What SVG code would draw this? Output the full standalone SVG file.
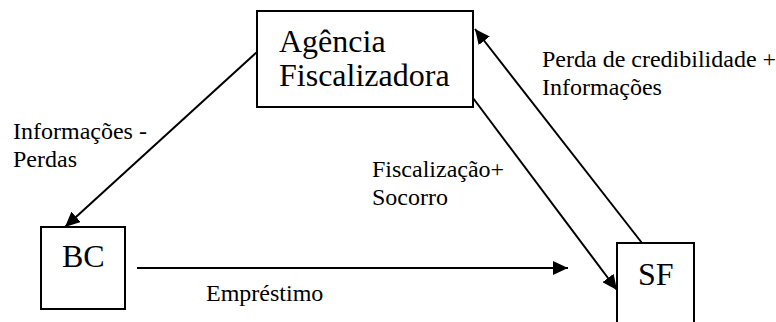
<svg xmlns="http://www.w3.org/2000/svg" width="776" height="322" viewBox="0 0 776 322">
<defs>
<marker id="ah" markerUnits="userSpaceOnUse" markerWidth="16" markerHeight="14" refX="15" refY="7" orient="auto">
<path d="M0,0 L15,7 L0,14 z" fill="#000"/>
</marker>
<style>
.box{fill:#fff;stroke:#000;stroke-width:2}
text{font-family:'Liberation Serif',serif;fill:#000}
.big{font-size:32px}
.lbl{font-size:24px}
.con{stroke:#000;stroke-width:2;fill:none;marker-end:url(#ah)}
</style>
</defs>
<rect width="776" height="322" fill="#fff"/>
<g id="connectors">
<line class="con" x1="257" y1="52" x2="65" y2="227"/>
<line class="con" x1="642" y1="243" x2="475" y2="29"/>
<line class="con" x1="473" y1="98" x2="617" y2="290"/>
<line class="con" x1="137" y1="268" x2="568" y2="268"/>
</g>
<g id="agencia">
<rect class="box" x="257" y="11" width="216" height="96"/>
<text class="big" x="279" y="52">Agência</text>
<text class="big" x="279" y="86">Fiscalizadora</text>
</g>
<g id="bc">
<rect class="box" x="41" y="227" width="84" height="82"/>
<text class="big" x="62" y="267">BC</text>
</g>
<g id="sf">
<rect class="box" x="617" y="243" width="77" height="100"/>
<text class="big" x="638" y="285">SF</text>
</g>
<g id="labels">
<text class="lbl" x="13" y="139">Informações -</text>
<text class="lbl" x="13" y="167">Perdas</text>
<text class="lbl" x="542" y="67">Perda de credibilidade +</text>
<text class="lbl" x="542" y="95">Informações</text>
<text class="lbl" x="372" y="177">Fiscalização+</text>
<text class="lbl" x="372" y="205">Socorro</text>
<text class="lbl" x="206" y="301">Empréstimo</text>
</g>
</svg>
